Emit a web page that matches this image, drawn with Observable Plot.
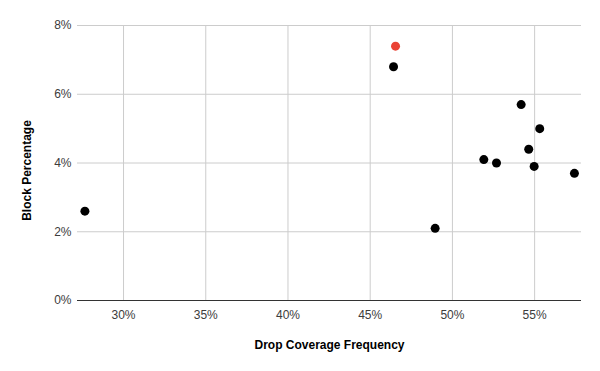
<!DOCTYPE html>
<html>
<head>
<meta charset="utf-8">
<script src="https://cdn.jsdelivr.net/npm/d3@7"></script>
<script src="https://cdn.jsdelivr.net/npm/@observablehq/plot@0.6"></script>
<style>
  html, body { margin: 0; padding: 0; background: #fff; }
  #chart svg { display: block; }
  g[aria-label="x-axis label"] text { font-weight: bold; fill: #000; }
</style>
</head>
<body>
<div id="chart"></div>
<script>
// Drop Coverage Frequency (%) and Block Percentage (%)
const dropCoverage = [27.65, 46.42, 48.95, 51.91, 52.68, 54.18, 54.64, 54.97, 55.31, 57.42];
const blockPct     = [2.6,   6.8,   2.1,   4.1,   4.0,   5.7,   4.4,   3.9,   5.0,   3.7];
// highlighted point
const highlightX = [46.54];
const highlightY = [7.4];
const xTicks = [30, 35, 40, 45, 50, 55];
const yTicks = [0, 2, 4, 6, 8];
const yTitle = ["Block Percentage"];

const points = dropCoverage.map((x, i) => ({x, y: blockPct[i]}));
const highlight = highlightX.map((x, i) => ({x, y: highlightY[i]}));

const chart = Plot.plot({
  width: 600,
  height: 371,
  marginLeft: 77,
  marginRight: 19,
  marginTop: 25,
  marginBottom: 71,
  style: {fontFamily: "Arial, 'Liberation Sans', sans-serif", fontSize: "12px", color: "#3c3c3c", background: "#fff"},
  x: {domain: [27.2, 57.85]},
  y: {domain: [0, 8]},
  marks: [
    Plot.gridX(xTicks, {stroke: "#ccc", strokeOpacity: 1}),
    Plot.gridY(yTicks, {stroke: "#ccc", strokeOpacity: 1}),
    Plot.ruleY([0], {stroke: "#333"}),
    Plot.axisX({ticks: xTicks, tickFormat: d => d + "%", tickSize: 0, tickPadding: 10,
      label: "Drop Coverage Frequency", labelAnchor: "center", labelArrow: "none", labelOffset: 48}),
    Plot.axisY({ticks: yTicks, tickFormat: d => d + "%", tickSize: 0, tickPadding: 6, label: null}),
    Plot.text(yTitle, {frameAnchor: "left", dx: -50, dy: 7.5, rotate: -90, text: d => d,
      fontWeight: "bold", fill: "#000", textAnchor: "middle", lineAnchor: "middle", fontSize: 12}),
    Plot.dot(points, {x: "x", y: "y", r: 4.5, fill: "#000", stroke: null}),
    Plot.dot(highlight, {x: "x", y: "y", r: 4.5, fill: "#ea4335", stroke: null})
  ]
});
document.getElementById("chart").appendChild(chart);
</script>
</body>
</html>
